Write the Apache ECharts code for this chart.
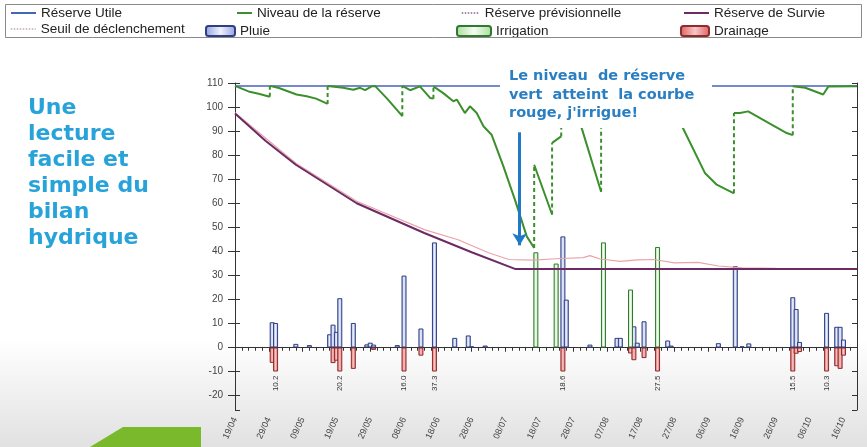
<!DOCTYPE html>
<html>
<head>
<meta charset="utf-8">
<script src="https://cdn.jsdelivr.net/npm/echarts@6/dist/echarts.min.js"></script>
<style>
  html, body { margin: 0; padding: 0; background: #fff; }
  #chart { width: 867px; height: 447px; }
</style>
</head>
<body>
<div id="chart"></div>
<script>
// jour 0 = 19/04, une graduation tous les 10 jours
const xLabels = ['19/04', '29/04', '09/05', '19/05', '29/05', '08/06', '18/06', '28/06', '08/07', '18/07',
  '28/07', '07/08', '17/08', '27/08', '06/09', '16/09', '26/09', '06/10', '16/10'];

const ruJours = [0, 184];
const ruValeurs = [108.8, 108.8];

// niveau de la reserve : deux points au meme jour = remontee (trait pointille)
const niveauJours = [0, 4, 7, 10.3, 10.3, 13, 18.2, 21.2, 24, 27.4, 27.4, 32, 35, 37, 38.5, 40.4, 41.4, 45,
  49.5, 49.5, 51.8, 54.7, 57.7, 58.7, 58.7, 61.6, 64.6, 65.6, 68, 69.5, 71.5, 73.5, 75.9, 79.4, 82.8, 86.3,
  88.5, 88.5, 93.8, 93.8, 96.5, 96.5, 98.2, 102.7, 108.3, 108.3, 113, 113.6, 117, 118, 121, 121.5, 126,
  127.5, 132.5, 139, 142.5, 147.6, 147.6, 149.4, 151.8, 163.2, 165, 165, 168.7, 174, 175.5, 184];
const niveauValeurs = [108.8, 106.5, 105.5, 104.3, 108.8, 107.9, 105.2, 104.5, 103.5, 101.3, 108.8, 108, 107.2,
  108, 107, 108.6, 108.8, 103.5, 96.2, 108.8, 107, 108.6, 103.8, 103.5, 108.6, 105.8, 102.4, 103.1, 97.5,
  100.3, 97.5, 92, 88.5, 75.3, 61.5, 46.2, 41.4, 76, 55.3, 85.1, 87.8, 108.8, 108.5, 90.6, 64.8, 108.8, 103,
  107.5, 104, 108, 104.5, 108.8, 103, 104, 91.3, 72.6, 67.7, 64.1, 97.5, 97.5, 98.2, 89.2, 88.3, 108.6,
  108, 105.2, 108.5, 108.7];

const survieJours = [0, 9, 18, 36, 56, 70, 83, 184];
const survieValeurs = [97.3, 86, 76, 60, 47.6, 39.6, 32.6, 32.6];

const seuilJours = [0, 18, 36, 56, 66, 75, 81, 88, 95, 103, 105, 108, 114, 119, 124, 130, 137, 143, 150, 160, 184];
const seuilValeurs = [97.6, 76.6, 60.8, 49, 44.8, 39.4, 36.6, 36.3, 36.9, 37.4, 38.2, 36.8, 35.8, 36.4, 36.6,
  35.2, 35.4, 33.9, 33.1, 32.9, 32.8];

const pluieJours = [11, 12, 18, 22, 28, 29, 30, 31, 35, 39, 40, 41, 48, 50, 55, 59, 65, 69, 70, 74, 97, 98,
  105, 113, 114, 118, 119, 121, 128, 129, 143, 148, 150, 152, 165, 166, 167, 175, 178, 179, 180];
const pluieValeurs = [10.5, 10.2, 1.5, 1.0, 5.5, 9.5, 6.5, 20.5, 10.2, 1.3, 2.0, 1.2, 1.0, 29.9, 7.9, 43.7,
  4.0, 5.0, 0.5, 0.8, 46.2, 19.9, 1.2, 4.0, 4.0, 8.8, 2.0, 10.9, 2.9, 0.8, 1.8, 33.8, 0.5, 1.7, 20.9, 16.0,
  2.3, 14.4, 8.6, 8.6, 3.3];

const irrigJours = [89, 95, 109, 117, 125];
const irrigValeurs = [39.6, 34.9, 43.7, 24.1, 41.8];

const drainJours = [11, 12, 29, 30, 31, 35, 41, 50, 55, 59, 97, 117, 118, 121, 125, 165, 166, 167, 175, 178, 179, 180];
const drainValeurs = [-6.4, -10.2, -6.5, -5.5, -20.2, -8.9, -1.0, -16.0, -3.4, -37.3, -18.6, -2.5, -5.3, -4.4,
  -27.5, -15.5, -2.6, -1.9, -10.3, -7.8, -8.9, -3.4];
const drainPlancher = -10; // au dela, barre coupee et valeur ecrite dessous

const paires = (jours, vals) => jours.map((d, i) => [d, vals[i]]);

const niveauPlein = [];
const niveauSauts = [];
niveauJours.forEach((d, i) => {
  if (i > 0 && d === niveauJours[i - 1]) {
    niveauPlein.push([d, null]);
    niveauSauts.push([d, niveauValeurs[i - 1]], [d, niveauValeurs[i]], [d, null]);
  }
  niveauPlein.push([d, niveauValeurs[i]]);
});

const drainData = drainJours.map((d, i) => {
  const v = drainValeurs[i];
  if (v >= drainPlancher) return [d, v];
  return {
    value: [d, drainPlancher],
    label: { show: true, formatter: Math.abs(v).toFixed(1) }
  };
});

const degrade = (bord, centre) => ({
  type: 'linear', x: 0, y: 0, x2: 1, y2: 0,
  colorStops: [{ offset: 0, color: bord }, { offset: 0.5, color: centre }, { offset: 1, color: bord }]
});

// une legende par entree, placee comme dans l'original
const leg = (item, left, top, w, h, isLine) => {
  const l = {
    data: [item], left: left, top: top, itemWidth: w, itemHeight: h, padding: 0, itemGap: 0,
    selectedMode: false,
    textStyle: { fontSize: 13.5, color: '#222', fontFamily: 'Liberation Sans' }
  };
  if (isLine) l.itemStyle = { opacity: 0 };
  return l;
};

const yBase = { type: 'value', min: -26, max: 110, splitNumber: 13, splitLine: { show: false } };
const xBase = { type: 'value', min: 0, max: 184, interval: 10, splitLine: { show: false } };

const chart = echarts.init(document.getElementById('chart'));
chart.setOption({
  animation: false,
  backgroundColor: {
    type: 'linear', x: 0, y: 0, x2: 0, y2: 1,
    colorStops: [{ offset: 0, color: '#ffffff' }, { offset: 0.76, color: '#ffffff' }, { offset: 1, color: '#e1e1e1' }]
  },
  textStyle: { fontFamily: 'Liberation Sans' },
  grid: { left: 235, right: 10, top: 83, bottom: 37, outerBoundsMode: 'none' },
  legend: [
    leg('Réserve Utile', 10, 6, 25, 14, true),
    leg('Niveau de la réserve', 236, 6, 15, 14, true),
    leg({ name: 'Réserve prévisionnelle', lineStyle: { type: 'dotted', width: 1.5 } }, 461, 6, 18, 14, true),
    leg('Réserve de Survie', 683, 6, 25, 14, true),
    leg({ name: 'Seuil de déclenchement', lineStyle: { type: 'dotted', width: 1.5, color: '#c9a7ad' } }, 10, 22, 25, 14, true),
    leg('Pluie', 205, 24, 29, 10, false),
    leg('Irrigation', 456, 24, 34, 10, false),
    leg('Drainage', 680, 24, 28, 10, false)
  ],
  xAxis: [
    Object.assign({}, xBase, {
      axisLine: { lineStyle: { color: '#333' } },
      axisTick: { length: 4, lineStyle: { color: '#333' } },
      minorTick: { show: true, splitNumber: 5, length: 3, lineStyle: { color: '#333' } },
      axisLabel: {
        rotate: 65, fontSize: 9, color: '#444', margin: 8, showMaxLabel: false,
        formatter: v => (v % 10 === 0 ? xLabels[v / 10] : '')
      }
    }),
    Object.assign({}, xBase, {
      axisLine: { show: false },
      axisTick: { inside: true, length: 4, lineStyle: { color: '#333' } },
      minorTick: { show: true, splitNumber: 5, length: 3, lineStyle: { color: '#333' } },
      axisLabel: { show: false }
    })
  ],
  yAxis: [
    Object.assign({}, yBase, {
      position: 'left',
      axisLine: { show: true, lineStyle: { color: '#333' } },
      axisTick: { show: true, length: 7, lineStyle: { color: '#333' } },
      axisLabel: { showMinLabel: false, fontSize: 10, color: '#444', margin: 12 }
    }),
    Object.assign({}, yBase, {
      position: 'left',
      axisLine: { show: false },
      axisTick: { show: true, inside: true, length: 5, lineStyle: { color: '#333' } },
      axisLabel: { show: false }
    }),
    Object.assign({}, yBase, {
      position: 'right',
      axisLine: { show: true, lineStyle: { color: '#333' } },
      axisTick: { show: true, inside: true, length: 5, lineStyle: { color: '#333' } },
      axisLabel: { show: false }
    })
  ],
  series: [
    {
      name: 'Pluie', type: 'bar', barWidth: 5, barGap: '-100%',
      data: paires(pluieJours, pluieValeurs),
      itemStyle: { color: degrade('#8fa2e0', '#eef1fb'), borderColor: '#2f3f80', borderWidth: 1 }
    },
    {
      name: 'Irrigation', type: 'bar', barWidth: 5, barGap: '-100%',
      data: paires(irrigJours, irrigValeurs),
      itemStyle: { color: degrade('#a9dc9c', '#f4fcf1'), borderColor: '#2f7a2f', borderWidth: 1 }
    },
    {
      name: 'Drainage', type: 'bar', barWidth: 5, barGap: '-100%',
      data: drainData,
      itemStyle: { color: degrade('#de5f5f', '#f7c6c6'), borderColor: '#8e2b2b', borderWidth: 1 },
      label: {
        position: 'bottom', distance: 4, rotate: 90, align: 'right', verticalAlign: 'middle',
        fontSize: 8, color: '#333'
      }
    },
    {
      name: 'Seuil de déclenchement', type: 'line', symbol: 'none',
      data: paires(seuilJours, seuilValeurs),
      itemStyle: { color: '#e9a3ab' },
      lineStyle: { color: '#e9a3ab', width: 1.2 }
    },
    {
      name: 'Réserve de Survie', type: 'line', symbol: 'none',
      data: paires(survieJours, survieValeurs),
      itemStyle: { color: '#6d2a63' },
      lineStyle: { color: '#6d2a63', width: 2 }
    },
    {
      name: 'Réserve Utile', type: 'line', symbol: 'none',
      data: paires(ruJours, ruValeurs),
      itemStyle: { color: '#4565b8' },
      lineStyle: { color: '#4565b8', width: 1.5 }
    },
    {
      name: 'Niveau de la réserve', type: 'line', symbol: 'none', connectNulls: false,
      data: niveauPlein,
      itemStyle: { color: '#3b8f2c' },
      lineStyle: { color: '#3b8f2c', width: 2 },
      markLine: {
        silent: true, symbol: ['none', 'arrow'], symbolSize: [11, 12],
        label: { show: false },
        lineStyle: { color: '#1f78c8', width: 3, type: 'solid' },
        data: [[{ coord: [84.2, 89.5] }, { coord: [84.2, 42.5] }]]
      }
    },
    {
      type: 'line', symbol: 'none', connectNulls: false,
      data: niveauSauts,
      lineStyle: { color: '#3b8f2c', width: 2, type: [4, 3] }
    },
    {
      name: 'Réserve prévisionnelle', type: 'line', symbol: 'none', data: [],
      itemStyle: { color: '#7d6a86' },
      lineStyle: { color: '#7d6a86', width: 1.5, type: 'dotted' }
    }
  ],
  graphic: [
    {
      type: 'rect', z: 100, silent: true,
      shape: { x: 5.5, y: 4.5, width: 856, height: 33 },
      style: { fill: 'none', stroke: '#8a8a8a', lineWidth: 1 }
    },
    {
      type: 'text', z: 100, left: 28, top: 95, silent: true,
      style: {
        text: 'Une\nlecture\nfacile et\nsimple du\nbilan\nhydrique',
        font: 'bold 22px "DejaVu Sans"', fill: '#27a3da', lineHeight: 26
      }
    },
    {
      type: 'rect', z: 100, silent: true,
      shape: { x: 500, y: 64, width: 212, height: 64 },
      style: { fill: '#ffffff' }
    },
    {
      type: 'text', z: 101, left: 509, top: 67, silent: true,
      style: {
        text: 'Le niveau  de réserve\nvert  atteint  la courbe\nrouge, j\'irrigue!',
        font: 'bold 14.5px "DejaVu Sans"', fill: '#2a7fc2', lineHeight: 18.5
      }
    },
    {
      type: 'polygon', z: 100, silent: true,
      shape: { points: [[90, 447], [123, 427], [201, 427], [201, 447]] },
      style: { fill: '#79b92b' }
    }
  ]
});
</script>
</body>
</html>
